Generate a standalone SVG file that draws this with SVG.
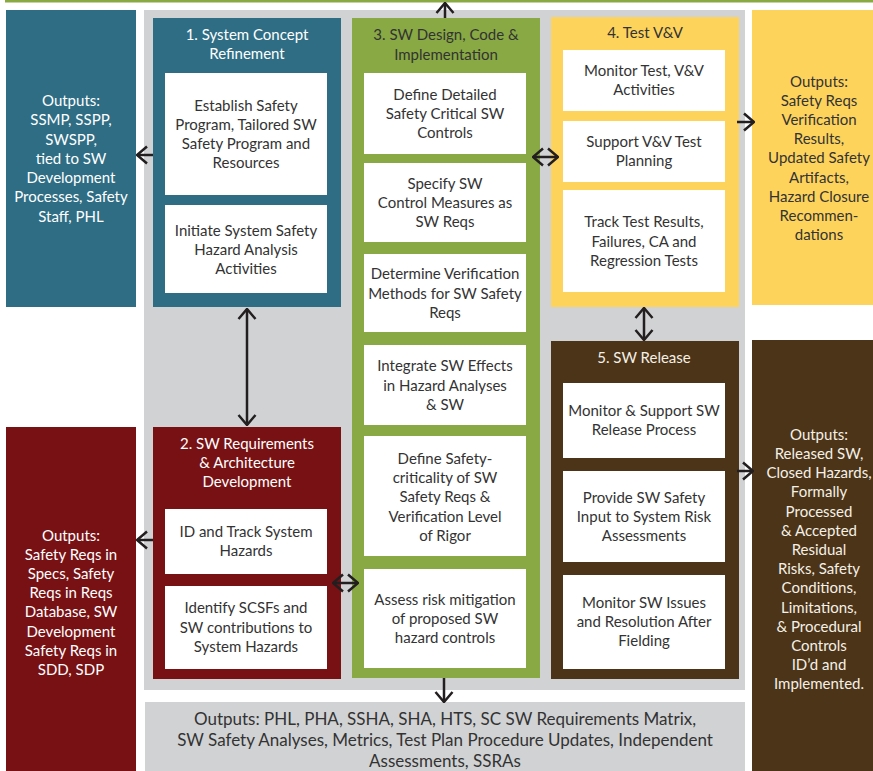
<svg xmlns="http://www.w3.org/2000/svg" width="873" height="771" viewBox="0 0 873 771">
<style>
text{font-family:Lato,"Liberation Sans",sans-serif;font-size:15px;text-anchor:middle}
.d{fill:#333333}
.w{fill:#ffffff}
.c{fill:#f5f0e6}
.b{font-size:17px}
.box{fill:#ffffff}
.arr{fill:none;stroke:#231f20;stroke-width:2.5}
</style>
<defs>
<marker id="ah" viewBox="0 0 12 20" refX="11" refY="10" markerWidth="12" markerHeight="20" markerUnits="userSpaceOnUse" orient="auto-start-reverse">
<path d="M1,1.5 L11,10 L1,18.5" fill="none" stroke="#231f20" stroke-width="2.5"/>
</marker>
</defs>
<rect x="5" y="0" width="868" height="2.5" fill="#88a943"/>
<rect id="bg" x="144" y="10" width="601" height="680" fill="#d1d2d4"/>

<g id="out1">
<rect x="6" y="10" width="130" height="297" fill="#2e6d84"/>
<text class="w" x="71" y="106">Outputs:</text>
<text class="w" x="71" y="125">SSMP, SSPP,</text>
<text class="w" x="71" y="145">SWSPP,</text>
<text class="w" x="71" y="164">tied to SW</text>
<text class="w" x="71" y="183">Development</text>
<text class="w" x="71" y="202">Processes, Safety</text>
<text class="w" x="71" y="222">Staff, PHL</text>
</g>

<g id="phase1">
<rect x="153" y="18" width="188" height="289" fill="#2e6d84"/>
<text class="w" x="247" y="40">1. System Concept</text>
<text class="w" x="247" y="59">Refinement</text>
<rect class="box" x="165" y="73" width="162" height="122"/>
<text class="d" x="246" y="111">Establish Safety</text>
<text class="d" x="246" y="130">Program, Tailored SW</text>
<text class="d" x="246" y="149">Safety Program and</text>
<text class="d" x="246" y="168">Resources</text>
<rect class="box" x="165" y="205" width="162" height="88"/>
<text class="d" x="246" y="236">Initiate System Safety</text>
<text class="d" x="246" y="255">Hazard Analysis</text>
<text class="d" x="246" y="274">Activities</text>
</g>

<g id="out2">
<rect x="6" y="427" width="130" height="344" fill="#781114"/>
<text class="w" x="71" y="541">Outputs:</text>
<text class="w" x="71" y="560">Safety Reqs in</text>
<text class="w" x="71" y="579">Specs, Safety</text>
<text class="w" x="71" y="598">Reqs in Reqs</text>
<text class="w" x="71" y="617">Database, SW</text>
<text class="w" x="71" y="637">Development</text>
<text class="w" x="71" y="656">Safety Reqs in</text>
<text class="w" x="71" y="675">SDD, SDP</text>
</g>

<g id="phase2">
<rect x="153" y="427" width="188" height="252" fill="#781114"/>
<text class="w" x="247" y="449">2. SW Requirements</text>
<text class="w" x="247" y="468">&amp; Architecture</text>
<text class="w" x="247" y="487">Development</text>
<rect class="box" x="165" y="509" width="162" height="65"/>
<text class="d" x="246" y="537">ID and Track System</text>
<text class="d" x="246" y="556">Hazards</text>
<rect class="box" x="165" y="586" width="162" height="83"/>
<text class="d" x="246" y="613">Identify SCSFs and</text>
<text class="d" x="246" y="633">SW contributions to</text>
<text class="d" x="246" y="652">System Hazards</text>
</g>

<g id="phase3">
<rect x="352" y="18" width="188" height="660" fill="#88a943"/>
<text class="d" x="446" y="40">3. SW Design, Code &amp;</text>
<text class="d" x="446" y="60">Implementation</text>
<rect class="box" x="364" y="73" width="162" height="81"/>
<text class="d" x="445" y="100">Define Detailed</text>
<text class="d" x="445" y="119">Safety Critical SW</text>
<text class="d" x="445" y="138">Controls</text>
<rect class="box" x="364" y="163" width="162" height="79"/>
<text class="d" x="445" y="189">Specify SW</text>
<text class="d" x="445" y="208">Control Measures as</text>
<text class="d" x="445" y="227">SW Reqs</text>
<rect class="box" x="364" y="254" width="162" height="78"/>
<text class="d" x="445" y="279">Determine Verification</text>
<text class="d" x="445" y="299">Methods for SW Safety</text>
<text class="d" x="445" y="318">Reqs</text>
<rect class="box" x="364" y="345" width="162" height="80"/>
<text class="d" x="445" y="371">Integrate SW Effects</text>
<text class="d" x="445" y="391">in Hazard Analyses</text>
<text class="d" x="445" y="410">&amp; SW</text>
<rect class="box" x="364" y="436" width="162" height="120"/>
<text class="d" x="445" y="464">Define Safety-</text>
<text class="d" x="445" y="483">criticality of SW</text>
<text class="d" x="445" y="502">Safety Reqs &amp;</text>
<text class="d" x="445" y="522">Verification Level</text>
<text class="d" x="445" y="541">of Rigor</text>
<rect class="box" x="364" y="569" width="162" height="99"/>
<text class="d" x="445" y="605">Assess risk mitigation</text>
<text class="d" x="445" y="624">of proposed SW</text>
<text class="d" x="445" y="643">hazard controls</text>
</g>

<g id="phase4">
<rect x="551" y="17" width="188" height="290" fill="#fed35c"/>
<text class="d" x="645" y="38">4. Test V&amp;V</text>
<rect class="box" x="563" y="50" width="162" height="61"/>
<text class="d" x="644" y="76">Monitor Test, V&amp;V</text>
<text class="d" x="644" y="95">Activities</text>
<rect class="box" x="563" y="121" width="162" height="61"/>
<text class="d" x="644" y="147">Support V&amp;V Test</text>
<text class="d" x="644" y="166">Planning</text>
<rect class="box" x="563" y="190" width="162" height="102"/>
<text class="d" x="644" y="227">Track Test Results,</text>
<text class="d" x="644" y="247">Failures, CA and</text>
<text class="d" x="644" y="266">Regression Tests</text>
</g>

<g id="out4">
<rect x="752" y="10" width="121" height="295" fill="#fed35c"/>
<text class="d" x="819" y="87">Outputs:</text>
<text class="d" x="819" y="106">Safety Reqs</text>
<text class="d" x="819" y="125">Verification</text>
<text class="d" x="819" y="144">Results,</text>
<text class="d" x="819" y="163">Updated Safety</text>
<text class="d" x="819" y="183">Artifacts,</text>
<text class="d" x="819" y="202">Hazard Closure</text>
<text class="d" x="819" y="221">Recommen-</text>
<text class="d" x="819" y="240">dations</text>
</g>

<g id="phase5">
<rect x="551" y="341" width="188" height="338" fill="#4b3418"/>
<text class="c" x="644" y="363">5. SW Release</text>
<rect class="box" x="563" y="383" width="162" height="75"/>
<text class="d" x="644" y="416">Monitor &amp; Support SW</text>
<text class="d" x="644" y="435">Release Process</text>
<rect class="box" x="563" y="471" width="162" height="91"/>
<text class="d" x="644" y="503">Provide SW Safety</text>
<text class="d" x="644" y="522">Input to System Risk</text>
<text class="d" x="644" y="541">Assessments</text>
<rect class="box" x="563" y="575" width="162" height="94"/>
<text class="d" x="644" y="608">Monitor SW Issues</text>
<text class="d" x="644" y="627">and Resolution After</text>
<text class="d" x="644" y="646">Fielding</text>
</g>

<g id="out5">
<rect x="752" y="340" width="121" height="431" fill="#4b3418"/>
<text class="c" x="819" y="440">Outputs:</text>
<text class="c" x="819" y="459">Released SW,</text>
<text class="c" x="819" y="478">Closed Hazards,</text>
<text class="c" x="819" y="497">Formally</text>
<text class="c" x="819" y="517">Processed</text>
<text class="c" x="819" y="536">&amp; Accepted</text>
<text class="c" x="819" y="555">Residual</text>
<text class="c" x="819" y="574">Risks, Safety</text>
<text class="c" x="819" y="593">Conditions,</text>
<text class="c" x="819" y="613">Limitations,</text>
<text class="c" x="819" y="632">&amp; Procedural</text>
<text class="c" x="819" y="651">Controls</text>
<text class="c" x="819" y="670">ID’d and</text>
<text class="c" x="819" y="689">Implemented.</text>
</g>

<g id="outAll">
<rect x="145" y="702" width="600" height="69" fill="#d1d2d4"/>
<text class="d b" x="445" y="725">Outputs: PHL, PHA, SSHA, SHA, HTS, SC SW Requirements Matrix,</text>
<text class="d b" x="445" y="746">SW Safety Analyses, Metrics, Test Plan Procedure Updates, Independent</text>
<text class="d b" x="445" y="767">Assessments, SSRAs</text>
</g>

<g id="connectors">
<path class="arr" d="M445,18 L445,3" marker-end="url(#ah)"/>
<path class="arr" d="M153,155 L137,155" marker-end="url(#ah)"/>
<path class="arr" d="M247,309 L247,425" marker-start="url(#ah)" marker-end="url(#ah)"/>
<path class="arr" d="M153,540 L137,540" marker-end="url(#ah)"/>
<path class="arr" d="M333,583 L358,583" marker-start="url(#ah)" marker-end="url(#ah)"/>
<path class="arr" d="M533,157 L558,157" marker-start="url(#ah)" marker-end="url(#ah)"/>
<path class="arr" d="M737,122 L754,122" marker-end="url(#ah)"/>
<path class="arr" d="M644,308 L644,340" marker-start="url(#ah)" marker-end="url(#ah)"/>
<path class="arr" d="M737,471 L753,471" marker-end="url(#ah)"/>
<path class="arr" d="M444,678 L444,702" marker-end="url(#ah)"/>
</g>
</svg>
